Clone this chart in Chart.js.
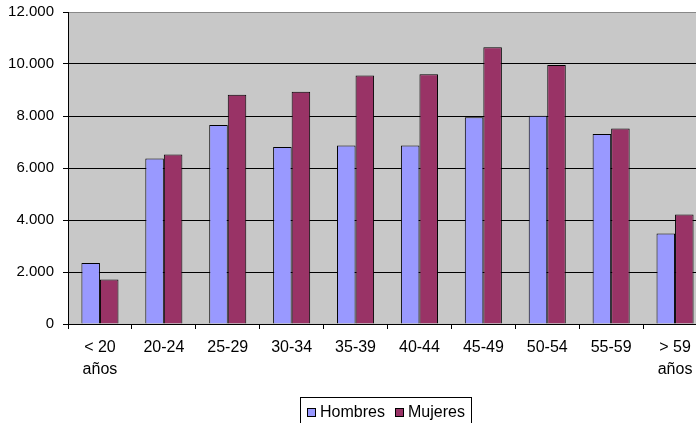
<!DOCTYPE html>
<html>
<head>
<meta charset="utf-8">
<script src="https://cdn.jsdelivr.net/npm/chart.js@4.4.1/dist/chart.umd.min.js"></script>
<style>
  html, body { margin: 0; padding: 0; background: #fff; overflow: hidden; }
  #wrap { position: relative; width: 712px; height: 423px; overflow: hidden; }
  #chart { position: absolute; left: 0; top: -6px; }
  #legend {
    position: absolute; left: 300px; top: 397px; width: 172px; height: 34px;
    border: 1px solid #000; box-sizing: border-box;
    font: 16px "Liberation Sans", Arial, sans-serif; color: #000;
    white-space: nowrap;
  }
  #legend span.item { position: absolute; top: 5px; line-height: 18px; }
  #legend i {
    display: inline-block; width: 9px; height: 9px; border: 1px solid #000;
    margin-right: 4px; vertical-align: 0px; box-sizing: border-box;
  }
</style>
</head>
<body>
<div id="wrap">
  <canvas id="chart" width="712" height="429"></canvas>
  <div id="legend"></div>
</div>
<script>
// data
const categories = [['< 20', 'años'], '20-24', '25-29', '30-34', '35-39', '40-44', '45-49', '50-54', '55-59', ['> 59', 'años']];
const hombres = [2350, 6370, 7650, 6810, 6870, 6870, 7950, 8010, 7310, 3480];
const mujeres = [1710, 6520, 8820, 8930, 9560, 9610, 10640, 9960, 7520, 4210];
const yMax = 12000;
const yStep = 2000;

const seriesNames = ['Hombres', 'Mujeres'];
const seriesColors = ['#9999FF', '#993366'];

function fmt(v) {
  return String(v).replace(/\B(?=(\d{3})+(?!\d))/g, '.');
}

const plotBg = {
  id: 'plotBg',
  beforeDraw(chart) {
    const a = chart.chartArea;
    const c = chart.ctx;
    c.save();
    c.fillStyle = '#C8C8C8';
    c.fillRect(a.left, a.top, a.right - a.left, a.bottom - a.top);
    c.restore();
  }
};

const family = '"Liberation Sans", Arial, sans-serif';

const chart = new Chart(document.getElementById('chart').getContext('2d'), {
  type: 'bar',
  data: {
    labels: categories,
    datasets: [
      { label: seriesNames[0], data: hombres, backgroundColor: seriesColors[0] },
      { label: seriesNames[1], data: mujeres, backgroundColor: seriesColors[1] }
    ].map(d => Object.assign(d, {
      borderColor: '#000', borderWidth: 1,
      categoryPercentage: 0.58, barPercentage: 1
    }))
  },
  options: {
    responsive: false,
    animation: false,
    layout: { padding: { top: 6, right: 5, left: 0, bottom: 0 } },
    plugins: { legend: { display: false }, tooltip: { enabled: false } },
    scales: {
      x: {
        grid: { drawOnChartArea: false, drawTicks: true, tickLength: 5, color: '#000', offset: true },
        border: { color: '#000', width: 1 },
        ticks: { color: '#000', font: { family: family, size: 16, lineHeight: 1.35 }, padding: 8, maxRotation: 0, autoSkip: false },
        afterFit(s) { s.height = 99; }
      },
      y: {
        min: 0, max: yMax,
        grid: {
          color: ctx => ctx.tick && ctx.tick.value === yMax ? '#888' : '#000',
          tickColor: '#000', tickLength: 5
        },
        border: { color: '#000', width: 1 },
        ticks: { stepSize: yStep, color: '#000', font: { family: family, size: 15 }, padding: 9, callback: v => fmt(v) },
        afterFit(s) { s.width = 68; }
      }
    }
  },
  plugins: [plotBg]
});

// legend as html text
const lg = document.getElementById('legend');
const lefts = [6, 94];
chart.data.datasets.forEach((d, i) => {
  const s = document.createElement('span');
  s.className = 'item';
  s.style.left = lefts[i] + 'px';
  s.innerHTML = '<i style="background:' + d.backgroundColor + '"></i>' + d.label;
  lg.appendChild(s);
});
</script>
</body>
</html>
